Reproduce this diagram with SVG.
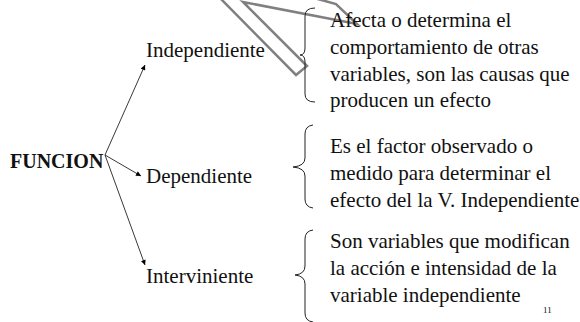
<svg xmlns="http://www.w3.org/2000/svg" width="580" height="322" viewBox="0 0 580 322">
<defs>
<marker id="ah" viewBox="0 0 10 10" refX="10" refY="5" markerWidth="6" markerHeight="5" markerUnits="userSpaceOnUse" orient="auto">
<path d="M0,0 L10,5 L0,10 Z" fill="#000"/>
</marker>
<style>
.t{font-family:"Liberation Serif","Times New Roman",serif;font-size:21px;fill:#111}
.b{font-family:"Liberation Serif","Times New Roman",serif;font-size:20px;font-weight:bold;fill:#111}
.br{fill:none;stroke:#222;stroke-width:1}
.c{fill:none;stroke:#222;stroke-width:0.9;marker-end:url(#ah)}
</style>
</defs>
<rect width="580" height="322" fill="#fff"/>
<g id="shape-arrow">
<polygon points="220,-2 296,75 307,66 243,2 357,24 336,4 314,-2" fill="none" stroke="#808080" stroke-width="2.5" stroke-linejoin="miter"/>
</g>
<g id="connectors">
<line class="c" x1="105" y1="155" x2="145" y2="65" stroke="#777"/>
<line class="c" x1="105" y1="155" x2="141" y2="176"/>
<line class="c" x1="105" y1="155" x2="145" y2="265"/>
</g>
<g id="funcion"><text class="b" x="10" y="168">FUNCION</text></g>
<g id="independiente"><text class="t" x="146" y="57">Independiente</text></g>
<g id="dependiente"><text class="t" x="146" y="183">Dependiente</text></g>
<g id="interviniente"><text class="t" x="146" y="283">Interviniente</text></g>
<g id="desc-independiente">
<path class="br" d="M315,8 Q305,8 305,16 L305,48 Q305,55 300,55 Q305,55 305,62 L305,94 Q305,102 315,102"/>
<text class="t" x="330" y="27">Afecta o determina el</text>
<text class="t" x="330" y="54">comportamiento de otras</text>
<text class="t" x="330" y="81">variables, son las causas que</text>
<text class="t" x="330" y="107">producen un efecto</text>
</g>
<g id="desc-dependiente">
<path class="br" d="M313,125 Q305,126 305,134 L305,158 Q305,166 293,167 Q305,168 305,176 L305,199 Q305,207 313,208"/>
<text class="t" x="330" y="153">Es el factor observado o</text>
<text class="t" x="330" y="180">medido para determinar el</text>
<text class="t" x="330" y="207">efecto del la V. Independiente</text>
</g>
<g id="desc-interviniente">
<path class="br" d="M313,230 Q305,231 305,239 L305,266 Q305,274 295,275 Q305,276 305,284 L305,313 Q305,321 313,322"/>
<text class="t" x="330" y="248">Son variables que modifican</text>
<text class="t" x="330" y="275">la acción e intensidad de la</text>
<text class="t" x="330" y="302">variable independiente</text>
</g>
<g id="page-number"><text class="t" x="543" y="313" style="font-size:9px">11</text></g>
</svg>
